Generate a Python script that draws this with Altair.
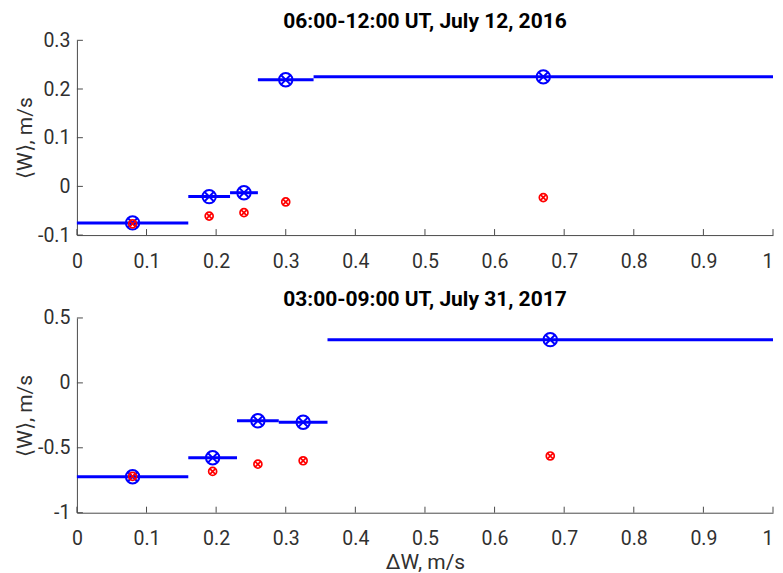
import altair as alt
import pandas as pd

# ---------------- data ----------------
top_title = "06:00-12:00 UT, July 12, 2016"
top_seg_x1 = [0.0, 0.16, 0.22, 0.26, 0.34]
top_seg_x2 = [0.16, 0.22, 0.26, 0.34, 1.0]
top_seg_y = [-0.075, -0.021, -0.013, 0.219, 0.225]
top_pt_x = [0.08, 0.19, 0.24, 0.30, 0.67]
top_blue_y = [-0.075, -0.021, -0.013, 0.219, 0.225]
top_red_y = [-0.077, -0.061, -0.054, -0.032, -0.023]
top_y_domain = [-0.1, 0.3]
top_y_ticks = [-0.1, 0, 0.1, 0.2, 0.3]

bot_title = "03:00-09:00 UT, July 31, 2017"
bot_seg_x1 = [0.0, 0.16, 0.23, 0.29, 0.36]
bot_seg_x2 = [0.16, 0.23, 0.29, 0.36, 1.0]
bot_seg_y = [-0.723, -0.577, -0.292, -0.303, 0.333]
bot_pt_x = [0.08, 0.195, 0.26, 0.325, 0.68]
bot_blue_y = [-0.723, -0.577, -0.292, -0.303, 0.333]
bot_red_y = [-0.72, -0.682, -0.626, -0.60, -0.563]
bot_y_domain = [-1, 0.5]
bot_y_ticks = [-1, -0.5, 0, 0.5]

x_ticks = [0, 0.1, 0.2, 0.3, 0.4, 0.5, 0.6, 0.7, 0.8, 0.9, 1]
x_title = "ΔW, m/s"
y_title = "⟨W⟩, m/s"

# ---------------- style ----------------
W, H = 697, 195
AX = "#4a4a4a"
TXT = "#303030"
FONT = "Roboto"
BLUE = "#0000ff"
RED = "#ff0000"
XPATH = "M-0.72,-0.72L0.72,0.72M-0.72,0.72L0.72,-0.72"
TICK = 6
LBL = 19.5
TTL = 21


def panel(title, sx1, sx2, sy, px, by, ry, ydom, yticks, show_xtitle):
    seg = pd.DataFrame({"x": sx1, "x2": sx2, "y": sy})
    pts = pd.DataFrame({"x": px, "yb": by, "yr": ry})
    xt = pd.DataFrame({"x": x_ticks})
    yt = pd.DataFrame({"y": yticks})

    xaxis = alt.Axis(values=x_ticks, labelExpr="toString(datum.value)",
                     labelAlign={"expr": "datum.value == 1 ? 'right' : 'center'"},
                     ticks=False, tickSize=0, grid=False, domainColor=AX,
                     labelFontSize=LBL, labelColor=TXT, labelFont=FONT,
                     labelPadding=17, titleFontSize=TTL, titleFont=FONT,
                     titleColor=TXT, titleFontWeight="normal", titlePadding=3)
    yaxis = alt.Axis(values=yticks, labelExpr="toString(datum.value)",
                     ticks=False, tickSize=0, grid=False, domainColor=AX,
                     labelFontSize=LBL, labelColor=TXT, labelFont=FONT,
                     labelPadding=7, titleFontSize=TTL, titleFont=FONT,
                     titleColor=TXT, titleFontWeight="normal", titlePadding=2)
    xs = alt.Scale(domain=[0, 1], nice=False, zero=False)
    ys = alt.Scale(domain=ydom, nice=False, zero=False)
    xt_title = x_title if show_xtitle else ""

    def X(f):
        return alt.X(f, type="quantitative", scale=xs, axis=xaxis, title=xt_title)

    def Y(f):
        return alt.Y(f, type="quantitative", scale=ys, axis=yaxis, title=y_title)

    segs = alt.Chart(seg).mark_rule(color=BLUE, strokeWidth=3, strokeCap="butt").encode(
        x=X("x"), x2="x2", y=Y("y"))
    bc = alt.Chart(pts).mark_point(shape="circle", color=BLUE, filled=False,
                                   size=180, strokeWidth=2, opacity=1).encode(x=X("x"), y=Y("yb"))
    bx = alt.Chart(pts).mark_point(shape=XPATH, color=BLUE, filled=False,
                                   size=180, strokeWidth=2, opacity=1).encode(x=X("x"), y=Y("yb"))
    rc = alt.Chart(pts).mark_point(shape="circle", color=RED, filled=False,
                                   size=64, strokeWidth=1.7, opacity=1).encode(x=X("x"), y=Y("yr"))
    rx = alt.Chart(pts).mark_point(shape=XPATH, color=RED, filled=False,
                                   size=64, strokeWidth=1.7, opacity=1).encode(x=X("x"), y=Y("yr"))
    xtk = alt.Chart(xt).mark_rule(color=AX, strokeWidth=1).encode(
        x=X("x"), y=alt.value(H), y2=alt.value(H - TICK))
    ytk = alt.Chart(yt).mark_rule(color=AX, strokeWidth=1).encode(
        y=Y("y"), x=alt.value(0), x2=alt.value(TICK))

    return alt.layer(xtk, ytk, segs, bc, bx, rc, rx).properties(
        width=W, height=H,
        title=alt.TitleParams(title, fontSize=21, font=FONT, fontWeight="bold",
                              color="#000000", offset=-2, anchor="middle"))


top = panel(top_title, top_seg_x1, top_seg_x2, top_seg_y, top_pt_x, top_blue_y,
            top_red_y, top_y_domain, top_y_ticks, False)
bot = panel(bot_title, bot_seg_x1, bot_seg_x2, bot_seg_y, bot_pt_x, bot_blue_y,
            bot_red_y, bot_y_domain, bot_y_ticks, True)

chart = alt.vconcat(top, bot, spacing=18).properties(
    padding={"left": 6, "top": 3, "right": 0, "bottom": 0}
).configure_view(stroke=None).configure_axis(domainWidth=1)

chart.save("out.html", embed_options={"renderer": "svg", "actions": False})
